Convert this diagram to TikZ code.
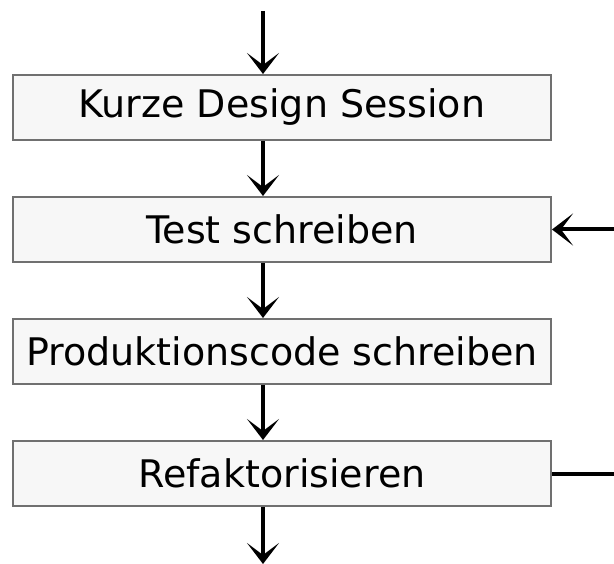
\documentclass[tikz,border=0pt]{standalone}
\usepackage{fontspec}
\setmainfont{DejaVu Sans}
\usetikzlibrary{positioning,arrows.meta}

\begin{document}
\begin{tikzpicture}[x=1pt, y=1pt, node distance=55pt,
    box/.style={draw={rgb,255:red,112;green,112;blue,112}, line width=2pt, fill={rgb,255:red,247;green,247;blue,247},
        minimum width=538pt, minimum height=65pt, inner sep=0pt, font=\fontsize{38}{40}\selectfont},
    arr/.style={line width=4pt, -{Stealth[length=21pt, width=32pt, inset=12pt]}}]
        \useasboundingbox (0,0) rectangle (614,-564); %
        \node[box] at (282,-107.5) (kurz){Kurze Design Session}; %
        \node[box, below=of kurz](test){Test schreiben}; %
        \node[box, below=of test](prod){Produktionscode schreiben}; %
        \node[box, below=of prod](refak){Refaktorisieren}; %
        \coordinate[above=63pt of kurz.north, xshift=-19pt] (start); %
        \coordinate[below=57pt of refak.south, xshift=-19pt] (ende); %
        \coordinate[right=62pt of test.east] (zurueck); %
        \coordinate[right=62pt of refak.east] (weiter); %
        \draw[arr] (start) -- ([xshift=-19pt]kurz.north); %
        \draw[arr] ([xshift=-19pt]kurz.south) -- ([xshift=-19pt]test.north); %
        \draw[arr] ([xshift=-19pt]test.south) -- ([xshift=-19pt]prod.north); %
        \draw[arr] ([xshift=-19pt]prod.south) -- ([xshift=-19pt]refak.north); %
        \draw[arr] ([xshift=-19pt]refak.south) -- (ende); %
        \draw[arr] (zurueck) -- (test.east); %
        \draw[line width=4pt] (refak.east) -- (weiter); %
    \end{tikzpicture}
\end{document}
